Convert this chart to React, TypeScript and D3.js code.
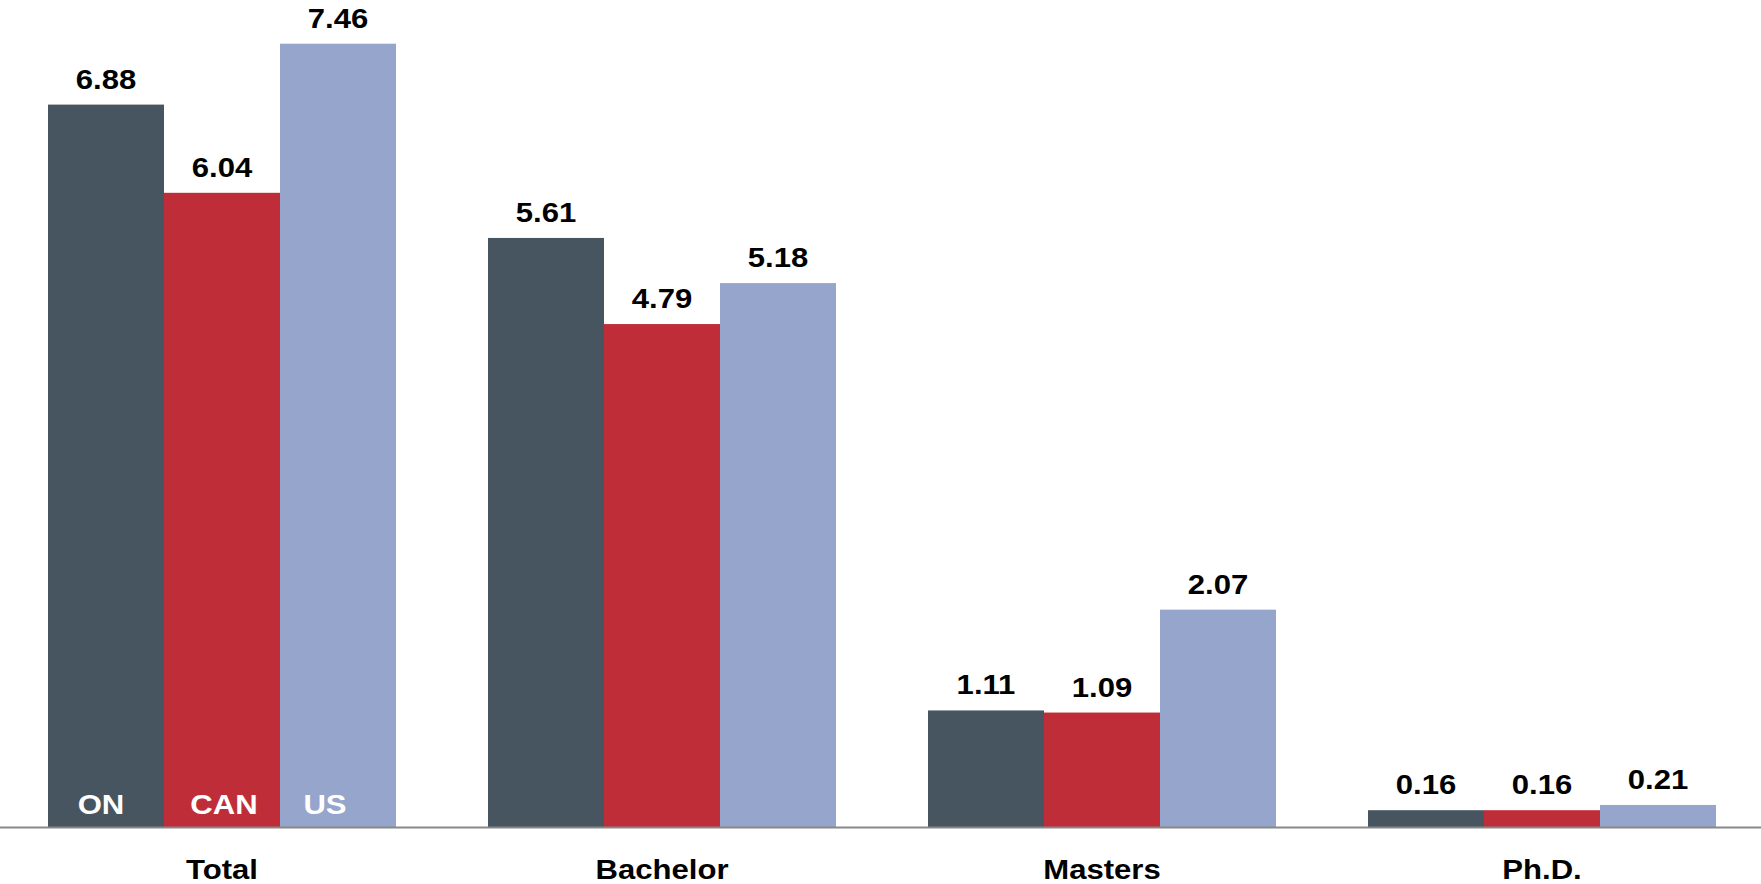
import React from "react";
import * as d3 from "d3";

const categories = ["Total", "Bachelor", "Masters", "Ph.D."];
const seriesNames = ["ON", "CAN", "US"];
const onValues = [6.88, 5.61, 1.11, 0.16];
const canValues = [6.04, 4.79, 1.09, 0.16];
const usValues = [7.46, 5.18, 2.07, 0.21];
const colors = ["#46555F", "#BE2D38", "#95A5CC"];
const seriesLabelOffsets = [-5, 2, -13];

const W = 1761;
const H = 884;
const baseline = 827;
const FONT = "'Liberation Sans', Arial, Helvetica, sans-serif";
const SX = 1.11;

function Label({ x, y, text, fill }: { x: number; y: number; text: string; fill: string }) {
  return (
    <text transform={`translate(${x},${y}) scale(${SX},1)`} textAnchor="middle" fontSize={28} fontWeight="bold" fill={fill}>
      {text}
    </text>
  );
}

export default function App() {
  const seriesValues = [onValues, canValues, usValues];
  const x0 = d3.scaleBand<string>().domain(categories).range([2, 1762]).paddingInner(92 / 440).paddingOuter(46 / 440);
  const x1 = d3.scaleBand<string>().domain(seriesNames).range([0, x0.bandwidth()]).padding(0);
  const y = d3.scaleLinear().domain([0, 8]).range([baseline, baseline - 8 * 105]);

  return (
    <svg width={W} height={H} style={{ position: "absolute", left: 0, top: 0, background: "#fff" }} fontFamily={FONT}>
      {categories.map((cat, ci) => (
        <g key={cat} transform={`translate(${x0(cat)},0)`}>
          {seriesNames.map((s, si) => {
            const v = seriesValues[si][ci];
            const bx = x1(s)!;
            const bw = x1.bandwidth();
            return (
              <g key={s}>
                <rect x={bx} y={y(v)} width={bw} height={baseline - y(v)} fill={colors[si]} />
                <Label x={bx + bw / 2} y={y(v) - 16} text={v.toFixed(2)} fill="#000" />
                {ci === 0 && <Label x={bx + bw / 2 + seriesLabelOffsets[si]} y={814} text={s} fill="#fff" />}
              </g>
            );
          })}
          <Label x={x0.bandwidth() / 2} y={879} text={cat} fill="#000" />
        </g>
      ))}
      <line x1={0} x2={W} y1={baseline + 0.5} y2={baseline + 0.5} stroke="#888" strokeWidth={2} />
    </svg>
  );
}
